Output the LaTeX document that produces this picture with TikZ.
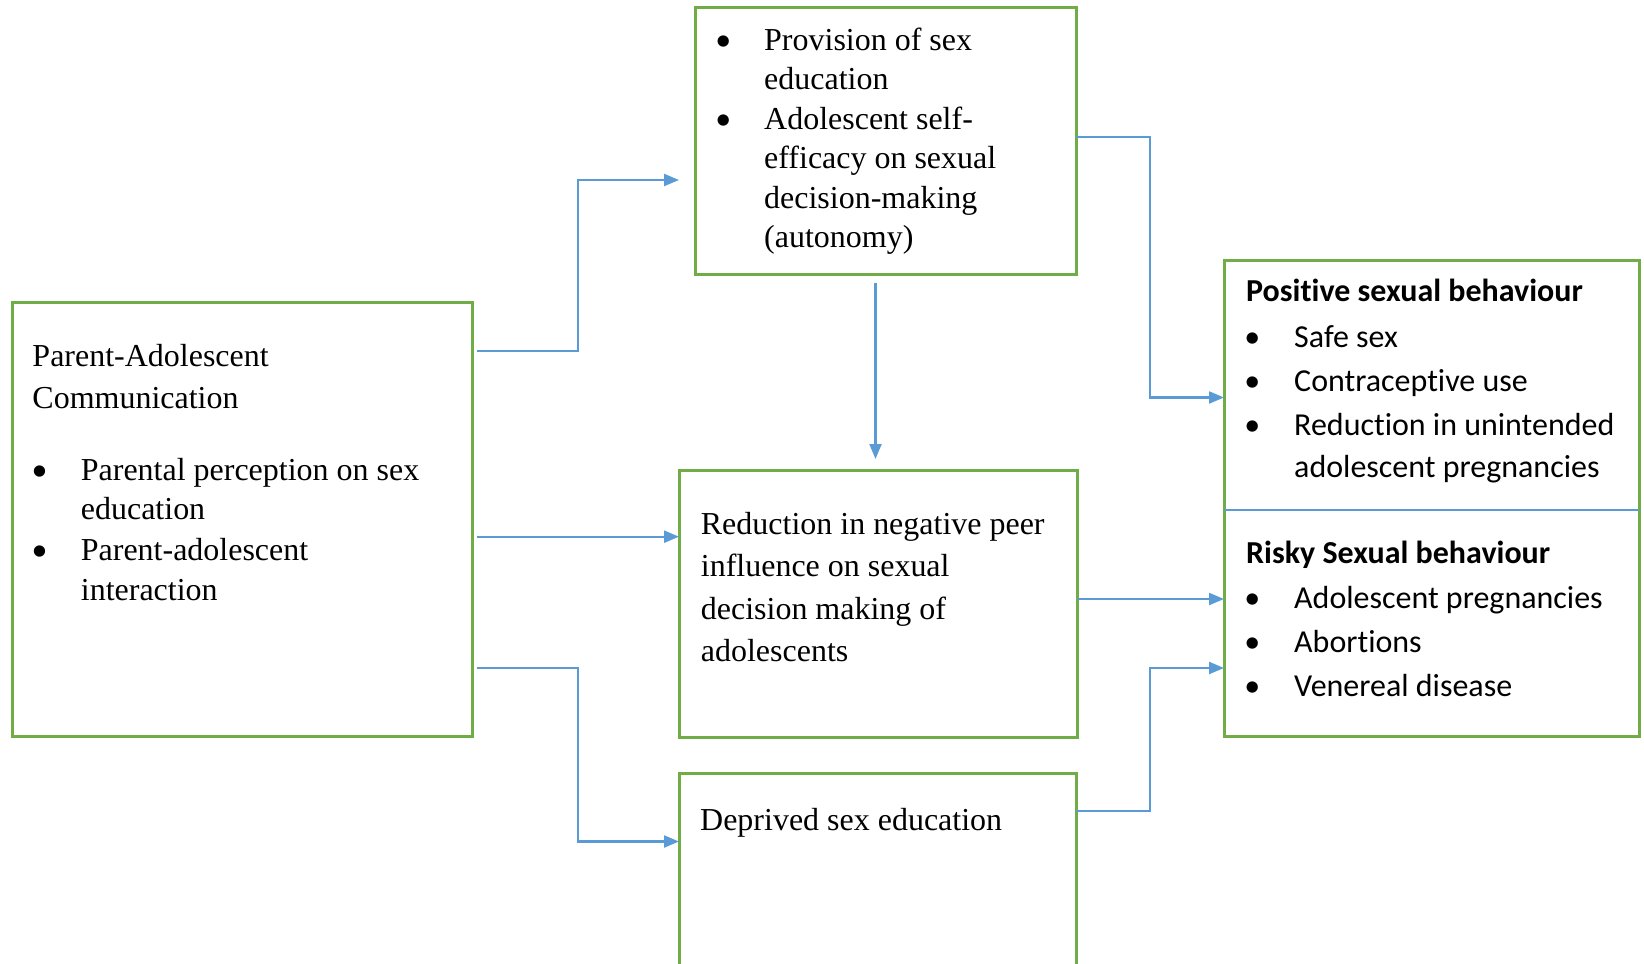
\documentclass[tikz,border=0pt]{standalone}
\usepackage{fontspec}
\setmainfont{Liberation Serif}[Ligatures=NoCommon]
\newfontfamily\calib{Carlito}[RawFeature={-liga;-clig;-calt;-dlig;-rlig}]
\usetikzlibrary{arrows.meta}
\definecolor{boxgreen}{HTML}{70AD47}
\definecolor{arrblue}{HTML}{5B9BD5}
\begin{document}
\begin{tikzpicture}[x=1bp,y=-1bp,
  box/.style={draw=boxgreen,line width=3bp,outer sep=0pt,inner sep=0pt,anchor=north west},
  arr/.style={draw=arrblue,line width=2.2bp,line join=miter,-{Triangle[length=15bp,width=12bp]}},
  tx/.style={anchor=base west,inner sep=0pt,font=\fontsize{32.1}{40}\selectfont},
  cx/.style={anchor=base west,inner sep=0pt,font=\calib\fontsize{32.1}{40}\selectfont},
  cxb/.style={anchor=base west,inner sep=0pt,font=\calib\bfseries\fontsize{32.1}{40}\selectfont},
  bl/.style={anchor=base,inner sep=0pt,font=\calib\fontsize{32.1}{40}\selectfont}]
\clip (0,0) rectangle (1644,963);
% boxes
\node[box,minimum width=460bp,minimum height=433.5bp] (L) at (12,302.5) {};
\node[box,minimum width=381bp,minimum height=267bp] (T) at (695,7.5) {};
\node[box,minimum width=398bp,minimum height=267bp] (M) at (679,470) {};
\node[box,minimum width=397bp,minimum height=300bp] (B) at (679,773.5) {};
\node[box,minimum width=415bp,minimum height=475.5bp] (R) at (1224,260.5) {};
% left box text
\node[tx] (l1) at (32.3,366.7) {Parent-Adolescent};
\node[tx] (l2) at (32.3,408.3) {Communication};
\node[bl] (lb1) at (39.5,480) {•};
\node[tx] (l3) at (80.7,480) {Parental perception on sex};
\node[tx] (l4) at (80.7,519.8) {education};
\node[bl] (lb2) at (39.5,560.7) {•};
\node[tx] (l5) at (80.7,560.7) {Parent-adolescent};
\node[tx] (l6) at (80.7,600.5) {interaction};
% top box text
\node[bl] (tb1) at (723.3,50) {•};
\node[tx] (t1) at (764,50) {Provision of sex};
\node[tx] (t2) at (764,89.5) {education};
\node[bl] (tb2) at (723.3,129) {•};
\node[tx] (t3) at (764,129) {Adolescent self-};
\node[tx] (t4) at (764,168.5) {efficacy on sexual};
\node[tx] (t5) at (764,208) {decision-making};
\node[tx] (t6) at (764,247.5) {(autonomy)};
% middle box text
\node[tx] (m1) at (700.7,534) {Reduction in negative peer};
\node[tx] (m2) at (700.7,576.7) {influence on sexual};
\node[tx] (m3) at (700.7,619.2) {decision making of};
\node[tx] (m4) at (700.7,661.7) {adolescents};
% bottom box text
\node[tx] (d1) at (700,830) {Deprived sex education};
% right box text
\node[cxb] (r1) at (1246,301.7) {Posit\kern0pt ive sexual behaviour};
\node[bl] (rb1) at (1252.3,347.3) {•};
\node[cx] (r2) at (1294,347.3) {Safe sex};
\node[bl] (rb2) at (1252.3,391.7) {•};
\node[cx] (r3) at (1294,391.7) {Contracept\kern0pt ive use};
\node[bl] (rb3) at (1252.3,435) {•};
\node[cx] (r4) at (1294,435) {Reduction in unintended};
\node[cx] (r5) at (1294,477.7) {adolescent pregnancies};
\node[cxb] (r6) at (1246,563.3) {Risky Sexual behaviour};
\node[bl] (rb4) at (1252.3,608.3) {•};
\node[cx] (r7) at (1294,608.3) {Adolescent pregnancies};
\node[bl] (rb5) at (1252.3,652.3) {•};
\node[cx] (r8) at (1294,652.3) {Abortions};
\node[bl] (rb6) at (1252.3,696.7) {•};
\node[cx] (r9) at (1294,696.7) {Venereal disease};
% divider
\coordinate (dv) at (0,510);
\draw[arrblue,line width=1.3bp] (R.west |- dv) -- (R.east |- dv);
% connectors
\coordinate (a1s) at (0,351);
\coordinate (k1) at (577.7,180);
\draw[arr,shorten <=5bp,shorten >=16bp] (L.east |- a1s) -| (k1) -- (T.west |- k1);
\coordinate (a2) at (0,536.7);
\draw[arr,shorten <=5bp] (L.east |- a2) -- (M.west |- a2);
\coordinate (k3) at (577.7,668);
\coordinate (a3) at (0,841.5);
\draw[arr,shorten <=5bp] (L.east |- k3) -- (k3) |- (B.west |- a3);
\coordinate (a4) at (875.5,0);
\draw[arr,shorten <=8bp,shorten >=11bp] (T.south -| a4) -- (M.north -| a4);
\coordinate (k5) at (1150,137);
\coordinate (a5) at (0,397.5);
\draw[arr] (T.east |- k5) -- (k5) |- (R.west |- a5);
\coordinate (a6) at (0,599);
\draw[arr] (M.east |- a6) -- (R.west |- a6);
\coordinate (k7) at (1150,811);
\coordinate (a7) at (0,668);
\draw[arr] (B.east |- k7) -- (k7) |- (R.west |- a7);
\end{tikzpicture}
\end{document}
